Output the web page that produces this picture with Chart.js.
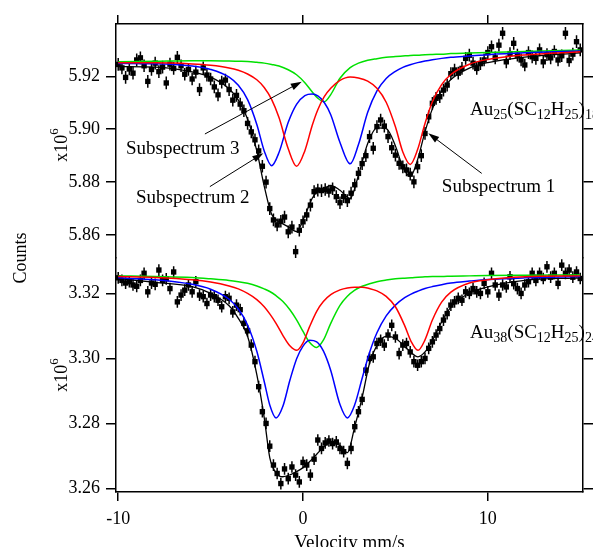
<!DOCTYPE html>
<html>
<head>
<meta charset="utf-8">
<script src="https://cdn.jsdelivr.net/npm/chart.js@4.4.1/dist/chart.umd.min.js"></script>
<style>
  html, body { margin: 0; padding: 0; background: #fff; }
  .wrap { position: relative; width: 593px; height: 547px; }
</style>
</head>
<body>
<div class="wrap"><canvas id="spectra"></canvas></div>
<script>
// Ticks ----------------------
const X_TICKS = [-10, 0, 10];
const X_TOP_TICKS = [-10, 0, 10];
const Y_TICKS_AU25 = [5.86, 5.88, 5.90, 5.92];
const Y_TICKS_AU38 = [3.26, 3.28, 3.30, 3.32];

// Measured channels (mm/s) and counts (x10^6)
const VELOCITY = [
  -10, -9.8, -9.6, -9.4, -9.2, -9, -8.8, -8.6, -8.4, -8.2,
  -8, -7.8, -7.6, -7.4, -7.2, -7, -6.8, -6.6, -6.4, -6.2,
  -6, -5.8, -5.6, -5.4, -5.2, -5, -4.8, -4.6, -4.4, -4.2,
  -4, -3.8, -3.6, -3.4, -3.2, -3, -2.8, -2.6, -2.4, -2.2,
  -2, -1.8, -1.6, -1.4, -1.2, -1, -0.8, -0.6, -0.4, -0.2,
  0, 0.2, 0.4, 0.6, 0.8, 1, 1.2, 1.4, 1.6, 1.8,
  2, 2.2, 2.4, 2.6, 2.8, 3, 3.2, 3.4, 3.6, 3.8,
  4, 4.2, 4.4, 4.6, 4.8, 5, 5.2, 5.4, 5.6, 5.8,
  6, 6.2, 6.4, 6.6, 6.8, 7, 7.2, 7.4, 7.6, 7.8,
  8, 8.2, 8.4, 8.6, 8.8, 9, 9.2, 9.4, 9.6, 9.8,
  10, 10.2, 10.4, 10.6, 10.8, 11, 11.2, 11.4, 11.6, 11.8,
  12, 12.2, 12.4, 12.6, 12.8, 13, 13.2, 13.4, 13.6, 13.8,
  14, 14.2, 14.4, 14.6, 14.8, 15,
];
const COUNTS_AU25 = [
  5.9245, 5.9232, 5.9196, 5.9228, 5.9212, 5.9262, 5.9270, 5.9240, 5.9181, 5.9226,
  5.9250, 5.9218, 5.9235, 5.9175, 5.9246, 5.9230, 5.9272, 5.9240, 5.9208, 5.9226,
  5.9190, 5.9216, 5.9150, 5.9232, 5.9205, 5.9190, 5.9160, 5.9130, 5.9178, 5.9186,
  5.9150, 5.9110, 5.9128, 5.9095, 5.9070, 5.9022, 5.8990, 5.8960, 5.8918, 5.8860,
  5.8800, 5.8700, 5.8657, 5.8638, 5.8652, 5.8668, 5.8612, 5.8630, 5.8537, 5.8618,
  5.8650, 5.8676, 5.8713, 5.8764, 5.8770, 5.8768, 5.8772, 5.8766, 5.8775, 5.8745,
  5.8722, 5.8745, 5.8730, 5.8758, 5.8790, 5.8833, 5.8870, 5.8900, 5.8972, 5.8928,
  5.9010, 5.9035, 5.9012, 5.8972, 5.8930, 5.8902, 5.8871, 5.8858, 5.8846, 5.8830,
  5.8801, 5.8858, 5.8900, 5.8984, 5.9047, 5.9098, 5.9117, 5.9123, 5.9148, 5.9167,
  5.9210, 5.9224, 5.9212, 5.9230, 5.9268, 5.9280, 5.9250, 5.9230, 5.9248, 5.9262,
  5.9290, 5.9312, 5.9270, 5.9318, 5.9363, 5.9255, 5.9286, 5.9325, 5.9280, 5.9262,
  5.9243, 5.9290, 5.9274, 5.9268, 5.9300, 5.9255, 5.9282, 5.9270, 5.9294, 5.9262,
  5.9278, 5.9363, 5.9260, 5.9284, 5.9331, 5.9300,
];
const COUNTS_AU38 = [
  3.3248, 3.3240, 3.3232, 3.3236, 3.3226, 3.3222, 3.3240, 3.3262, 3.3205, 3.3232,
  3.3228, 3.3272, 3.3240, 3.3245, 3.3215, 3.3266, 3.3174, 3.3195, 3.3210, 3.3226,
  3.3205, 3.3236, 3.3195, 3.3190, 3.3169, 3.3195, 3.3190, 3.3179, 3.3159, 3.3190,
  3.3185, 3.3143, 3.3164, 3.3150, 3.3108, 3.3085, 3.3041, 3.2990, 3.2913, 3.2836,
  3.2800, 3.2730, 3.2672, 3.2646, 3.2615, 3.2660, 3.2630, 3.2666, 3.2641, 3.2620,
  3.2680, 3.2672, 3.2641, 3.2690, 3.2749, 3.2723, 3.2740, 3.2746, 3.2738, 3.2743,
  3.2723, 3.2713, 3.2677, 3.2723, 3.2790, 3.2836, 3.2874, 3.2964, 3.3000, 3.3005,
  3.3046, 3.3056, 3.3041, 3.3072, 3.3102, 3.3066, 3.3015, 3.3041, 3.3046, 3.3020,
  3.2990, 3.2979, 3.2990, 3.3000, 3.3031, 3.3051, 3.3072, 3.3092, 3.3118, 3.3138,
  3.3164, 3.3174, 3.3185, 3.3179, 3.3205, 3.3200, 3.3215, 3.3205, 3.3200, 3.3231,
  3.3205, 3.3262, 3.3226, 3.3195, 3.3226, 3.3220, 3.3251, 3.3230, 3.3215, 3.3200,
  3.3226, 3.3236, 3.3262, 3.3240, 3.3262, 3.3246, 3.3282, 3.3250, 3.3262, 3.3231,
  3.3287, 3.3262, 3.3272, 3.3250, 3.3266, 3.3246,
];
// statistical error of one channel (x10^6)
const ERR_AU25 = 0.0024;
const ERR_AU38 = 0.0018;

// Fitted curves, Au25 -----------
const FIT_V_AU25 = [
  -10, -8, -6, -5, -4, -3.5, -3, -2.5, -2.1, -1.7, -1.3, -0.8, -0.35, 0.1, 0.5, 0.8, 1.15, 1.5,
  2, 2.55, 3, 3.5, 4, 4.5, 5, 5.4, 5.8, 6.2, 6.6, 7, 7.5, 8, 9, 10, 12, 15,
];
const FIT_AU25 = [
  5.9237, 5.9235, 5.9217, 5.9197, 5.9153, 5.9110, 5.9039, 5.8918, 5.8785, 5.8678, 5.8651, 5.8631, 5.8613, 5.8673, 5.8739, 5.8765, 5.8776, 5.8788,
  5.8769, 5.8738, 5.8826, 5.8946, 5.9005, 5.9002, 5.8937, 5.8857, 5.8821, 5.8885, 5.8990, 5.9077, 5.9146, 5.9188, 5.9231, 5.9252, 5.9273, 5.9289,
];
const SUB1_AU25 = [
  5.9251, 5.9251, 5.9247, 5.9242, 5.9232, 5.9223, 5.9209, 5.9187, 5.9158, 5.9113, 5.9044, 5.8926, 5.8860, 5.8919, 5.9015, 5.9074, 5.9123, 5.9155,
  5.9185, 5.9198, 5.9194, 5.9182, 5.9155, 5.9102, 5.9009, 5.8914, 5.8867, 5.8923, 5.9022, 5.9104, 5.9169, 5.9207, 5.9246, 5.9264, 5.9281, 5.9293,
];
const SUB2_AU25 = [
  5.9249, 5.9248, 5.9239, 5.9226, 5.9197, 5.9166, 5.9112, 5.9018, 5.8918, 5.8862, 5.8912, 5.9026, 5.9094, 5.9127, 5.9133, 5.9126, 5.9101, 5.9055,
  5.8950, 5.8869, 5.8942, 5.9064, 5.9145, 5.9192, 5.9219, 5.9234, 5.9244, 5.9252, 5.9258, 5.9263, 5.9268, 5.9272, 5.9277, 5.9282, 5.9289, 5.9296,
];
const SUB3_AU25 = [
  5.9255, 5.9257, 5.9259, 5.9259, 5.9258, 5.9257, 5.9256, 5.9253, 5.9250, 5.9245, 5.9239, 5.9225, 5.9206, 5.9176, 5.9141, 5.9117, 5.9104, 5.9131,
  5.9193, 5.9233, 5.9250, 5.9261, 5.9267, 5.9272, 5.9275, 5.9277, 5.9279, 5.9280, 5.9282, 5.9283, 5.9284, 5.9286, 5.9288, 5.9290, 5.9294, 5.9300,
];

// Fitted curves, Au38 -----------
const FIT_V_AU38 = [
  -10, -8, -6, -5, -4, -3.5, -3, -2.5, -2.1, -1.8, -1.46, -1.1, -0.7, -0.34, 0, 0.35, 0.74, 1.1, 1.5,
  2, 2.4, 2.8, 3.2, 3.6, 4, 4.5, 5, 5.5, 5.85, 6.22, 6.6, 7, 7.5, 8, 9, 10, 12, 15,
];
const FIT_AU38 = [
  3.3246, 3.3234, 3.3221, 3.3200, 3.3162, 3.3123, 3.3068, 3.2950, 3.2818, 3.2695, 3.2648, 3.2636, 3.2642, 3.2652, 3.2664, 3.2682, 3.2705, 3.2727, 3.2742,
  3.2732, 3.2710, 3.2790, 3.2880, 3.2985, 3.3040, 3.3068, 3.3062, 3.3037, 3.3018, 3.3005, 3.3020, 3.3055, 3.3112, 3.3158, 3.3201, 3.3220, 3.3240, 3.3248,
];
const SUB1_AU38 = [
  3.3252, 3.3249, 3.3242, 3.3235, 3.3223, 3.3214, 3.3200, 3.3181, 3.3159, 3.3137, 3.3108, 3.3072, 3.3038, 3.3025, 3.3048, 3.3097, 3.3145, 3.3175, 3.3196,
  3.3211, 3.3217, 3.3219, 3.3219, 3.3215, 3.3208, 3.3191, 3.3159, 3.3101, 3.3052, 3.3025, 3.3057, 3.3118, 3.3173, 3.3204, 3.3232, 3.3242, 3.3251, 3.3254,
];
const SUB2_AU38 = [
  3.3248, 3.3242, 3.3228, 3.3213, 3.3182, 3.3152, 3.3103, 3.3022, 3.2929, 3.2857, 3.2817, 3.2851, 3.2935, 3.3000, 3.3038, 3.3056, 3.3051, 3.3023, 3.2963,
  3.2858, 3.2817, 3.2858, 3.2939, 3.3018, 3.3079, 3.3131, 3.3164, 3.3187, 3.3198, 3.3207, 3.3215, 3.3221, 3.3227, 3.3232, 3.3238, 3.3243, 3.3248, 3.3252,
];
const SUB3_AU38 = [
  3.3254, 3.3252, 3.3249, 3.3245, 3.3240, 3.3236, 3.3231, 3.3223, 3.3214, 3.3206, 3.3193, 3.3176, 3.3149, 3.3118, 3.3083, 3.3050, 3.3034, 3.3056, 3.3108,
  3.3163, 3.3191, 3.3210, 3.3222, 3.3230, 3.3236, 3.3241, 3.3245, 3.3247, 3.3248, 3.3250, 3.3251, 3.3252, 3.3252, 3.3253, 3.3254, 3.3255, 3.3256, 3.3257,
];

// Labels (velocity, counts) ------
const ARROW_NOTES = [
  { text: 'Subspectrum 3', at: [-9.58, 5.8906], from: [-5.31, 5.8982], to: [-0.07, 5.9180] },
  { text: 'Subspectrum 2', at: [-9.04, 5.8721], from: [-5.04, 5.8783], to: [-2.15, 5.8909] },
  { text: 'Subspectrum 1', at: [7.51, 5.8764], from: [9.67, 5.8833], to: [6.78, 5.8985] },
];
const SAMPLE_AU25 = { at: [9.04, 5.9054], parts: [['Au', 0], ['25', 1], ['(SC', 0], ['12', 1], ['H', 0], ['25', 1], [')', 0], ['18', 1]] };
const SAMPLE_AU38 = { at: [9.04, 3.3062], parts: [['Au', 0], ['38', 1], ['(SC', 0], ['12', 1], ['H', 0], ['25', 1], [')', 0], ['24', 1]] };

const FONT = '"Liberation Serif", "Times New Roman", serif';
const RED = '#ff0000';
const BLUE = '#0000ff';
const GREEN = '#00e000';

// Helpers ------------------------
const toPoints = (xs, ys) => xs.map((x, i) => ({ x, y: ys[i] }));

const curve = (xs, ys, color, yAxisID, order, width = 1.5) => ({
  type: 'line',
  data: toPoints(xs, ys),
  yAxisID,
  borderColor: color,
  borderWidth: width,
  pointRadius: 0,
  cubicInterpolationMode: 'monotone',
  fill: false,
  order,
});

const measured = (ys, err, yAxisID) => ({
  type: 'scatter',
  data: toPoints(VELOCITY, ys),
  yAxisID,
  err,
  showLine: false,
  pointStyle: 'rect',
  pointRadius: 3.8,
  backgroundColor: '#000',
  borderWidth: 0,
  order: 5,
});

const fixedTicks = list => scale => {
  scale.ticks = list.map(value => ({ value }));
};

const yAxis = (position, stack, min, max, ticks, labels) => ({
  type: 'linear',
  position,
  stack,
  stackWeight: 1,
  min,
  max,
  afterBuildTicks: fixedTicks(ticks),
  afterFit: scale => {
    scale.width = labels ? 84 : 10;
  },
  border: { color: '#000', width: 1.5 },
  grid: { drawOnChartArea: false, drawTicks: true, tickLength: 10, color: '#000', lineWidth: 1.5 },
  ticks: {
    display: labels,
    color: '#000',
    padding: 6,
    font: { family: FONT, size: 18 },
    callback: value => value.toFixed(2),
  },
});

// Error bars drawn before the squares
const errorBars = {
  id: 'errorBars',
  beforeDatasetDraw(chart, args) {
    const ds = chart.data.datasets[args.index];
    if (!ds.err) return;
    const { ctx, chartArea } = chart;
    const yScale = chart.scales[ds.yAxisID];
    const meta = args.meta;
    ctx.save();
    ctx.beginPath();
    ctx.rect(chartArea.left, chartArea.top, chartArea.width, chartArea.height);
    ctx.clip();
    ctx.strokeStyle = '#000';
    ctx.lineWidth = 1.5;
    ctx.beginPath();
    meta.data.forEach((pt, i) => {
      const v = ds.data[i].y;
      ctx.moveTo(pt.x, yScale.getPixelForValue(v + ds.err));
      ctx.lineTo(pt.x, yScale.getPixelForValue(v - ds.err));
    });
    ctx.stroke();
    ctx.restore();
  },
};

const drawArrow = (ctx, x0, y0, x1, y1) => {
  const a = Math.atan2(y1 - y0, x1 - x0);
  const c = Math.cos(a);
  const s = Math.sin(a);
  ctx.beginPath();
  ctx.moveTo(x0, y0);
  ctx.lineTo(x1 - 8 * c, y1 - 8 * s);
  ctx.stroke();
  ctx.beginPath();
  ctx.moveTo(x1, y1);
  ctx.lineTo(x1 - 11 * c + 3.5 * s, y1 - 11 * s - 3.5 * c);
  ctx.lineTo(x1 - 11 * c - 3.5 * s, y1 - 11 * s + 3.5 * c);
  ctx.closePath();
  ctx.fill();
};

const drawFormula = (ctx, x, y, parts) => {
  let cx = x;
  parts.forEach(([str, sub]) => {
    ctx.font = `${sub ? 14 : 19}px ${FONT}`;
    ctx.fillText(str, cx, sub ? y + 4 : y);
    cx += ctx.measureText(str).width;
  });
};

const drawPower = (ctx, xBase, yCenter) => {
  ctx.save();
  ctx.font = `18px ${FONT}`;
  const w1 = ctx.measureText('x10').width;
  ctx.font = `13px ${FONT}`;
  const w2 = ctx.measureText('6').width;
  ctx.translate(xBase, yCenter);
  ctx.rotate(-Math.PI / 2);
  ctx.textAlign = 'left';
  ctx.font = `18px ${FONT}`;
  ctx.fillText('x10', -(w1 + w2) / 2, 0);
  ctx.font = `13px ${FONT}`;
  ctx.fillText('6', -(w1 + w2) / 2 + w1, -9);
  ctx.restore();
};

const labels = {
  id: 'labels',
  afterDraw(chart) {
    const { ctx, scales } = chart;
    const x = scales.x;
    const yTop = scales.yTop;
    const yBot = scales.yBot;
    ctx.save();
    ctx.fillStyle = '#000';
    ctx.strokeStyle = '#000';
    ctx.lineWidth = 1;
    ctx.textBaseline = 'alphabetic';
    ctx.textAlign = 'left';

    ARROW_NOTES.forEach(({ text, at, from, to }) => {
      ctx.font = `19px ${FONT}`;
      ctx.fillText(text, x.getPixelForValue(at[0]), yTop.getPixelForValue(at[1]));
      drawArrow(
        ctx,
        x.getPixelForValue(from[0]), yTop.getPixelForValue(from[1]),
        x.getPixelForValue(to[0]), yTop.getPixelForValue(to[1])
      );
    });

    drawFormula(ctx, x.getPixelForValue(SAMPLE_AU25.at[0]), yTop.getPixelForValue(SAMPLE_AU25.at[1]), SAMPLE_AU25.parts);
    drawFormula(ctx, x.getPixelForValue(SAMPLE_AU38.at[0]), yBot.getPixelForValue(SAMPLE_AU38.at[1]), SAMPLE_AU38.parts);

    drawPower(ctx, 67, (yTop.top + yTop.bottom) / 2 + 4);
    drawPower(ctx, 67, (yBot.top + yBot.bottom) / 2);

    ctx.translate(26, (chart.chartArea.top + chart.chartArea.bottom) / 2);
    ctx.rotate(-Math.PI / 2);
    ctx.textAlign = 'center';
    ctx.font = `18px ${FONT}`;
    ctx.fillText('Counts', 0, 0);
    ctx.restore();
  },
};

// Chart --------------------------
new Chart(document.getElementById('spectra'), {
  data: {
    datasets: [
      measured(COUNTS_AU25, ERR_AU25, 'yTop'),
      measured(COUNTS_AU38, ERR_AU38, 'yBot'),
      curve(FIT_V_AU25, FIT_AU25, '#000', 'yTop', 3, 1.3),
      curve(FIT_V_AU38, FIT_AU38, '#000', 'yBot', 3, 1.3),
      curve(FIT_V_AU25, SUB1_AU25, RED, 'yTop', 1),
      curve(FIT_V_AU25, SUB2_AU25, BLUE, 'yTop', 1),
      curve(FIT_V_AU25, SUB3_AU25, GREEN, 'yTop', 1),
      curve(FIT_V_AU38, SUB1_AU38, RED, 'yBot', 1),
      curve(FIT_V_AU38, SUB2_AU38, BLUE, 'yBot', 1),
      curve(FIT_V_AU38, SUB3_AU38, GREEN, 'yBot', 1),
    ],
  },
  options: {
    responsive: true,
    maintainAspectRatio: false,
    devicePixelRatio: 1,
    animation: false,
    events: [],
    layout: { padding: { left: 32, right: 0, top: 0, bottom: 0 } },
    plugins: { legend: { display: false }, tooltip: { enabled: false } },
    scales: {
      x: {
        type: 'linear',
        position: 'bottom',
        min: -10.12,
        max: 15.15,
        afterBuildTicks: fixedTicks(X_TICKS),
        afterFit: scale => {
          scale.height = 55;
        },
        border: { color: '#000', width: 1.5 },
        grid: { drawOnChartArea: false, drawTicks: true, tickLength: 9, color: '#000', lineWidth: 1.5 },
        ticks: { color: '#000', padding: 7, maxRotation: 0, font: { family: FONT, size: 18 } },
        title: {
          display: true,
          text: 'Velocity mm/s',
          color: '#000',
          font: { family: FONT, size: 19 },
          padding: { top: 0, bottom: -7 },
        },
      },
      xTop: {
        type: 'linear',
        position: 'top',
        min: -10.12,
        max: 15.15,
        afterBuildTicks: fixedTicks(X_TOP_TICKS),
        afterFit: scale => {
          scale.height = 24;
        },
        border: { color: '#000', width: 1.5 },
        grid: { drawOnChartArea: false, drawTicks: true, tickLength: 9, color: '#000', lineWidth: 1.5 },
        ticks: { display: false },
      },
      // left stack: the later one goes on top
      yBot: yAxis('left', 'left', 3.2589, 3.3309, Y_TICKS_AU38, true),
      yTop: yAxis('left', 'left', 5.8513, 5.9398, Y_TICKS_AU25, true),
      yTopR: yAxis('right', 'right', 5.8513, 5.9398, Y_TICKS_AU25, false),
      yBotR: yAxis('right', 'right', 3.2589, 3.3309, Y_TICKS_AU38, false),
    },
  },
  plugins: [errorBars, labels],
});
</script>
</body>
</html>
